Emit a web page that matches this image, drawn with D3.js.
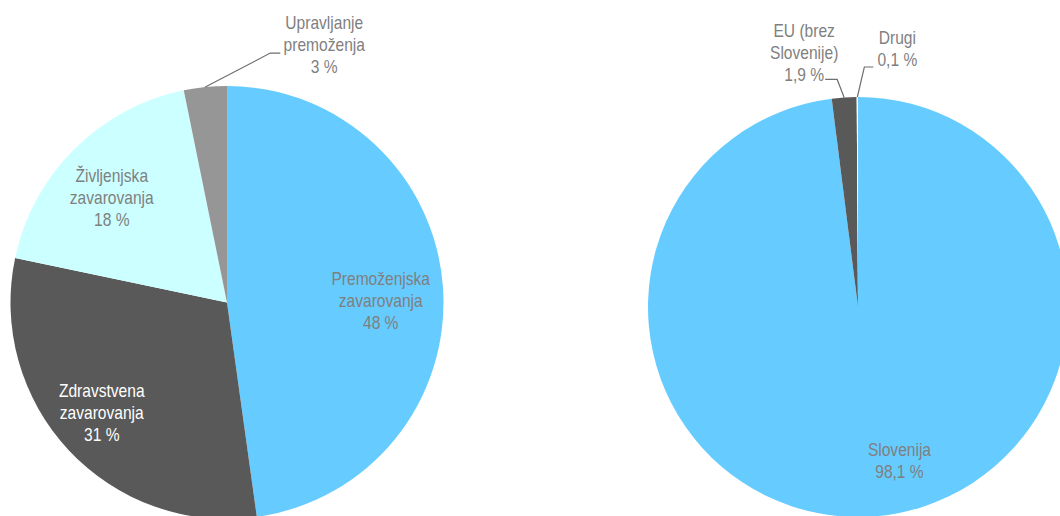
<!DOCTYPE html>
<html><head><meta charset="utf-8">
<script src="https://cdn.jsdelivr.net/npm/d3@7"></script>
<style>
html,body{margin:0;padding:0;background:#fff;overflow:hidden}
text{font-family:"Liberation Sans","Arial",sans-serif;font-size:17.5px}
</style></head>
<body>
<svg id="c" width="1060" height="516"></svg>
<script>
// Left pie: by type of insurance
const leftCategories = ["Premoženjska zavarovanja", "Zdravstvena zavarovanja", "Življenjska zavarovanja", "Upravljanje premoženja"];
const leftValues = [47.8, 30.5, 18.5, 3.2];
const leftLabels = [["Premoženjska","zavarovanja","48 %"],["Zdravstvena","zavarovanja","31 %"],["Življenjska","zavarovanja","18 %"],["Upravljanje","premoženja","3 %"]];
// Right pie: by origin
const rightCategories = ["Slovenija", "EU (brez Slovenije)", "Drugi"];
const rightValues = [98.1, 1.9, 0.1];
const rightLabels = [["Slovenija","98,1 %"],["EU (brez","Slovenije)","1,9 %"],["Drugi","0,1 %"]];

const leftColors = ["#66CCFF", "#595959", "#CCFFFF", "#969696"];
const rightColors = ["#66CCFF", "#595959", "#FFFFFF"];
const leftTextColors = ["#7f7f7f", "#ffffff", "#7f7f7f", "#7f7f7f"];
const rightTextColors = ["#7f7f7f", "#7f7f7f", "#7f7f7f"];

const svg = d3.select("#c");
const lineH = 22;
const squeeze = 0.89; // narrow-font look

function label(g, x, y0, lines, color) {
  const t = g.append("text").attr("text-anchor", "middle").attr("fill", color)
    .attr("transform", `translate(${x},0) scale(${squeeze},1)`);
  lines.forEach((ln, j) => {
    t.append("tspan").attr("x", 0).attr("y", y0 + j * lineH).attr("dy", "0.35em").text(ln);
  });
}

function drawPie(cfg) {
  const g = svg.append("g").attr("transform", `translate(${cfg.cx},${cfg.cy})`);
  const pie = d3.pie().sort(null).value(d => d)(cfg.values);
  const arc = d3.arc().innerRadius(0).outerRadius(cfg.r);
  g.selectAll("path.slice").data(pie).join("path")
    .attr("class", "slice")
    .attr("d", arc)
    .attr("fill", (d, i) => cfg.colors[i]);
  pie.forEach((d, i) => {
    const lay = cfg.layout[i];
    const lines = cfg.labels[i];
    const n = lines.length;
    const mid = (d.startAngle + d.endAngle) / 2;
    if (lay.type === "in") {
      const rr = cfg.r * lay.k;
      const a = mid + (lay.da || 0);
      const x = rr * Math.sin(a), y = -rr * Math.cos(a);
      label(g, x, y - (n - 1) / 2 * lineH, lines, cfg.textColors[i]);
    } else {
      const ex = cfg.r * Math.sin(mid), ey = -cfg.r * Math.cos(mid);
      const px = ex + lay.ex, py = ey + lay.ey;
      const hx = px + lay.hx;
      g.append("path").attr("d", `M${ex},${ey}L${px},${py}L${hx},${py}`)
        .attr("fill", "none").attr("stroke", "#6f6f6f").attr("stroke-width", 1.2);
      label(g, hx + lay.tx, py + lay.ty - (n - 1) * lineH, lines, cfg.textColors[i]);
    }
  });
}

drawPie({
  cx: 227, cy: 302.5, r: 216.5,
  values: leftValues, colors: leftColors, labels: leftLabels, textColors: leftTextColors,
  layout: [
    {type: "in", k: 0.71, da: 0.06},
    {type: "in", k: 0.77, da: 0.03},
    {type: "in", k: 0.72, da: -0.05},
    {type: "out", ex: 65, ey: -34, hx: 10, tx: 44, ty: 14}
  ]
});

drawPie({
  cx: 858, cy: 307, r: 210,
  values: rightValues, colors: rightColors, labels: rightLabels, textColors: rightTextColors,
  layout: [
    {type: "in", k: 0.76, da: -0.2},
    {type: "out", ex: -7, ey: -18, hx: -12, tx: -21, ty: -5},
    {type: "out", ex: 7, ey: -30, hx: 9, tx: 24, ty: -7}
  ]
});
</script>
</body></html>
